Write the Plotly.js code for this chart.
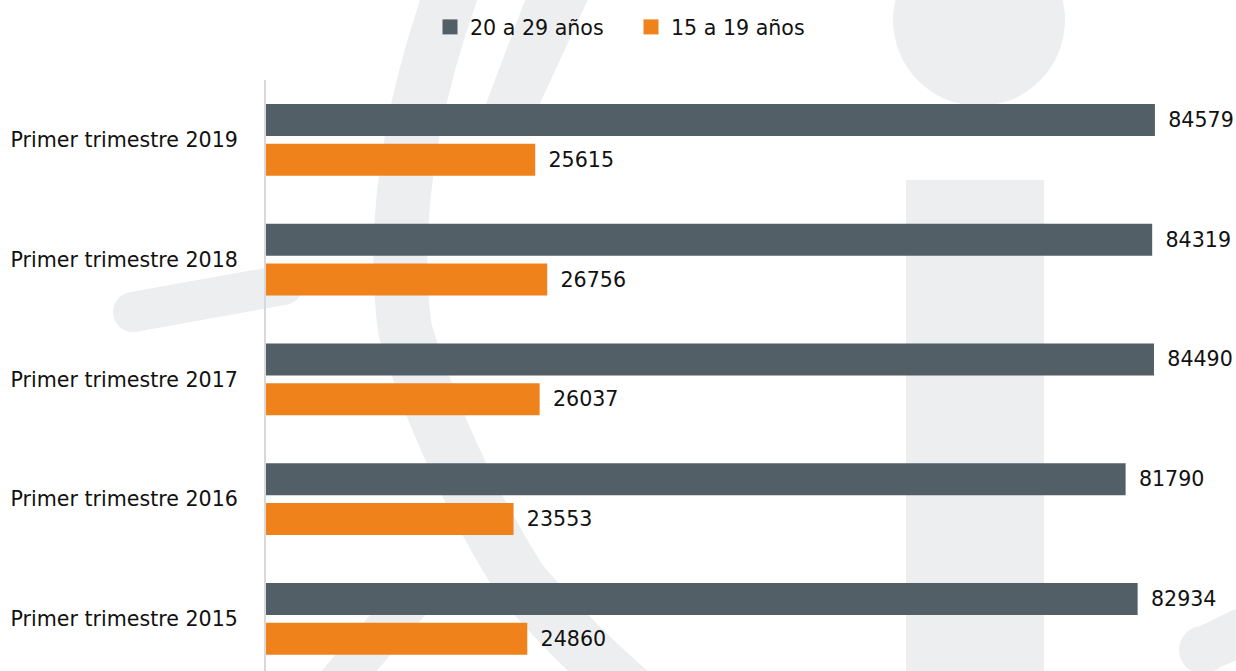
<!DOCTYPE html>
<html>
<head>
<meta charset="utf-8">
<script src="https://cdn.plot.ly/plotly-3.0.1.min.js"></script>
<style>html,body{margin:0;padding:0;background:#fff;}#chart{width:1236px;height:671px;}</style>
</head>
<body>
<div id="chart"></div>
<script>
// ---- data ----
const categories = ['Primer trimestre 2015', 'Primer trimestre 2016', 'Primer trimestre 2017', 'Primer trimestre 2018', 'Primer trimestre 2019'];
const seriesNames = ['20 a 29 años', '15 a 19 años'];
const values2029 = [82934, 81790, 84490, 84319, 84579];
const values1519 = [24860, 23553, 26037, 26756, 25615];
const colors = ['#535f67', '#f0821c'];

// ---- layout geometry ----
const FIG_W = 1236, FIG_H = 671;
const M = {l: 266, r: 0, t: 80, b: 0};
const PW = FIG_W - M.l - M.r, PH = FIG_H - M.t - M.b;
const WM = '#edeef0';
const FONT = 'DejaVu Sans, Noto Sans, sans-serif';
const FS = 20.6;

// pixel -> paper helpers for the faint background watermark
function px(x){ return (x - M.l) / PW; }
function py(y){ return 1 - (y - M.t) / PH; }
function pathPx(p){
  return p.replace(/(-?\d+(?:\.\d+)?),(-?\d+(?:\.\d+)?)/g, function(m, a, b){
    return px(+a).toFixed(5) + ',' + py(+b).toFixed(5);
  });
}
function circlePx(cx, cy, r){
  return {type:'circle', xref:'paper', yref:'paper', layer:'below',
    x0: px(cx - r), x1: px(cx + r), y0: py(cy + r), y1: py(cy - r),
    fillcolor: WM, line:{width:0}};
}
function fillPath(p){
  return {type:'path', xref:'paper', yref:'paper', layer:'below', path: pathPx(p), fillcolor: WM, line:{width:0}};
}
function strokePath(p, w){
  return {type:'path', xref:'paper', yref:'paper', layer:'below', path: pathPx(p), fillcolor:'rgba(0,0,0,0)', line:{width:w, color:WM}};
}

const shapes = [
  strokePath('M 452,-10 Q 385,180 405,330 Q 445,460 520,580 Q 570,640 640,700', 54),
  fillPath('M 527,-5 L 590,-5 L 530,125 L 478,125 Z'),
  fillPath('M 385,598 L 440,598 L 360,690 L 305,690 Z'),
  strokePath('M 133,312 L 283,285', 40),
  circlePx(133, 312, 20),
  circlePx(283, 285, 20),
  circlePx(979, 20, 86),
  fillPath('M 906,180 L 1044,180 L 1044,700 L 906,700 Z'),
  circlePx(1203, 650, 24),
  fillPath('M 1200,626 L 1250,602 L 1262,650 L 1203,674 Z')
];

function barTrace(name, vals, color){
  return {
    type:'bar', orientation:'h', name: name, showlegend:false,
    y: categories, x: vals,
    marker:{color: color},
    text: vals.map(String), texttemplate:'\u2002%{text}', textposition:'outside',
    textfont:{family:FONT, size:FS, color:'#111'}, cliponaxis:false, hoverinfo:'x+name'
  };
}
function legendTrace(name, color){
  return {type:'scatter', mode:'markers', name:name, x:[null], y:[null],
    marker:{symbol:'square', size:15, color:color}, showlegend:true, hoverinfo:'skip'};
}

const traces = [
  barTrace(seriesNames[1], values1519, colors[1]),
  barTrace(seriesNames[0], values2029, colors[0]),
  legendTrace(seriesNames[0], colors[0]),
  legendTrace(seriesNames[1], colors[1])
];

const layout = {
  width: FIG_W, height: FIG_H,
  margin: M,
  paper_bgcolor:'#ffffff', plot_bgcolor:'rgba(0,0,0,0)',
  font:{family:FONT, size:FS, color:'#111'},
  barmode:'group', bargap:0.332, bargroupgap:0.2,
  showlegend:true,
  legend:{orientation:'h', traceorder:'normal', itemwidth:30, entrywidth:156, entrywidthmode:'pixels',
    x:px(430), xanchor:'left', y:1 + (M.t - 27) / PH, yanchor:'middle',
    font:{family:FONT, size:FS, color:'#111'}, bgcolor:'rgba(0,0,0,0)'},
  xaxis:{range:[0, PW / 0.01051], showticklabels:false, showgrid:false, zeroline:false, showline:false, fixedrange:true},
  yaxis:{type:'category', categoryorder:'array', categoryarray:categories,
    range:[4.5 - PH / 119.75, 4.5],
    showline:true, linecolor:'#d9d9d9', linewidth:2, showgrid:false, zeroline:false,
    ticks:'outside', ticklen:22, tickcolor:'rgba(0,0,0,0)',
    tickfont:{family:FONT, size:FS, color:'#111'}, fixedrange:true},
  shapes: shapes
};

Plotly.newPlot('chart', traces, layout, {displayModeBar:false, staticPlot:true});
</script>
</body>
</html>
